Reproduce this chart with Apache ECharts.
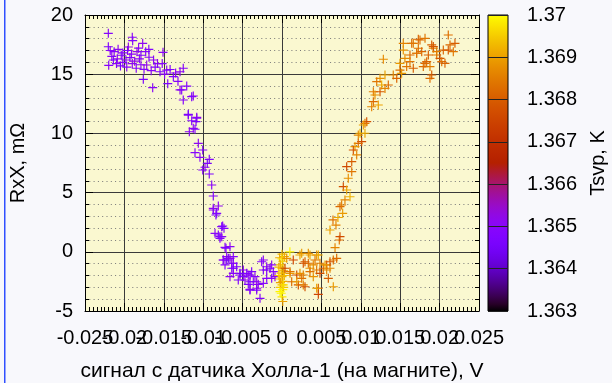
<!DOCTYPE html>
<html><head><meta charset="utf-8">
<script src="https://cdn.jsdelivr.net/npm/echarts@6/dist/echarts.min.js"></script>
<style>html,body{margin:0;padding:0;background:#f8f8fc;}#c{width:612px;height:383px;}</style>
</head><body><div id="c"></div>
<script>
// Hall sensor signal, V
const hallSignal = [
-0.02204,-0.01900,-0.01895,-0.01768,-0.02204,-0.02199,-0.01510,-0.01688,-0.01717,-0.01751,-0.01548,-0.01463,-0.01379,-0.01294,-0.01253,-0.01760,-0.01641,-0.01209,-0.01294,-0.01253,-0.01146,-0.01189,-0.01082,-0.01126,
-0.0218,-0.0213,-0.0208,-0.0202,-0.0196,-0.0191,-0.0184,-0.0179,-0.0216,-0.0209,-0.0204,-0.0198,-0.0193,-0.0187,-0.0181,-0.0210,-0.0205,-0.0197,-0.0190,-0.0185,-0.0179,-0.0202,-0.0214,-0.0182,-0.0195,-0.0173,-0.0169,-0.0163,-0.0158,-0.0161,-0.0152,-0.0149,-0.0142,-0.0135,-0.0132,-0.0145,-0.0166,
-0.01273,-0.01126,-0.01189,-0.01082,-0.01146,-0.01091,-0.01176,-0.01104,-0.01062,-0.01006,-0.01104,-0.01041,-0.00923,-0.00948,-0.00977,-0.01006,-0.00923,-0.00892,-0.00872,-0.00808,-0.00872,-0.00838,-0.00753,-0.00736,-0.00808,-0.00765,-0.00723,-0.00660,-0.00787,-0.00765,-0.00850,-0.00787,-0.00872,-0.00829,
-0.00711,-0.00745,-0.00681,-0.00618,-0.00638,-0.00575,-0.00618,-0.00491,-0.00448,-0.00406,-0.00533,-0.00470,-0.00364,-0.00428,-0.00301,-0.00237,-0.00406,-0.00321,-0.00279,-0.00237,-0.00152,-0.00110,-0.00089,-0.00194,-0.00131,-0.00194,-0.00385,-0.00343,-0.00702,
-0.00258,-0.00194,-0.00237,-0.00131,-0.00321,-0.00406,-0.00428,-0.00491,-0.00533,-0.00618,-0.00660,-0.00555,-0.00406,-0.00321,-0.00723,-0.00702,-0.00660,-0.00618,-0.00745,-0.00638,
0.0000,-0.0003,0.0001,-0.0002,0.0000,0.0002,-0.0001,0.0000,-0.0003,0.0001,0.0000,-0.0002,0.0001,-0.0001,0.0000,0.0001,-0.0004,-0.0004,0.0003,0.0003,-0.0002,0.0002,-0.00025,0.0010,0.0000,
0.00727,0.00673,0.00250,0.00355,0.00440,0.00143,0.00060,0.00270,0.00334,0.00397,0.00482,0.00567,0.00651,0.00038,0.00355,0.00440,0.00524,0.00609,0.00102,0.00187,0.00270,0.00397,0.00588,0.00123,0.00207,0.00270,0.00016,0.00461,0.00461,0.00651,
0.00228,0.00334,0.00461,0.00292,0.00419,0.00546,0.00609,0.00694,0.00102,0.00228,0.00355,0.00482,0.00567,0.00187,0.00250,0.00292,0.00440,
0.01159,0.01244,0.01180,0.01159,0.01222,0.01138,0.01075,0.01053,0.01032,0.00990,0.00968,0.01053,0.01011,0.00968,0.00926,0.00905,0.00948,0.00885,0.00821,0.00885,0.00841,0.00778,0.00821,0.00863,0.00799,0.00736,0.00770,0.00736,0.00647,0.00609,0.00685,0.00710,0.00757,
0.02110,0.01730,0.01815,0.01539,0.01646,0.01900,0.01920,0.02132,0.02195,0.02174,0.02110,0.01730,0.01773,0.01709,0.01857,0.01963,0.01539,0.01624,0.02005,0.02027,0.02068,0.01497,0.01582,0.01666,0.01793,0.01878,0.01286,0.01497,0.01307,0.01412,0.01456,0.01244,0.01202,0.01265,0.01349,0.01307,0.01878,0.02047,0.01900,0.01666,0.01751,0.01920,0.01963,0.01709,0.01836,0.01560,0.01624,0.01518,0.01814
];
// RxX, mOhm
const rxx = [
18.45,18.12,17.83,17.61,17.32,15.75,16.85,16.43,15.78,15.41,15.21,15.35,14.79,15.21,15.50,14.57,13.86,14.00,13.67,12.82,13.10,11.55,11.28,10.43,
17.0,16.9,17.1,16.8,17.0,16.7,16.9,16.6,16.5,16.3,16.6,16.2,16.4,16.1,16.3,15.9,15.7,15.6,15.9,15.5,15.8,16.0,16.2,17.2,17.3,16.9,17.1,16.2,15.9,15.6,15.9,15.0,15.4,15.1,14.4,14.2,15.3,
13.67,13.16,11.61,11.36,11.07,10.99,10.14,10.35,9.16,8.60,8.37,7.98,7.81,7.47,7.14,6.91,6.57,5.64,4.71,3.87,3.53,3.11,2.18,1.98,1.42,1.28,0.38,0.43,1.28,2.12,1.56,1.14,3.67,3.25,
0.30,-0.69,-0.55,-0.41,-0.97,-1.26,-1.39,-1.54,-1.82,-1.96,-1.96,-2.38,-2.53,-2.75,-2.75,-2.66,-3.23,-3.08,-3.93,-0.69,-1.39,-1.68,-2.10,-1.54,-1.11,-2.24,-1.68,-2.10,-0.41,
-0.84,-1.26,-1.54,-2.24,-2.53,-2.53,-1.96,-2.10,-1.82,-1.82,-2.10,-2.38,-3.17,-3.23,-1.11,-0.69,-0.55,-0.97,-0.69,-1.39,
-0.2,-0.5,-0.8,-1.1,-1.4,-1.6,-1.8,-2.1,-2.3,-2.5,-2.8,-3.0,-3.2,-3.5,-3.8,-4.2,-1.3,-2.0,-0.4,-2.0,-2.6,-3.0,-3.37,0.0,-0.6,
1.00,0.35,-0.13,-0.27,-0.27,-0.69,-0.55,-0.97,-0.97,-1.11,-0.97,-1.11,-0.69,-1.39,-1.39,-1.54,-1.39,-1.39,-1.82,-1.96,-1.96,-2.10,-2.24,-2.53,-2.80,-2.80,-2.80,-3.08,-3.59,-2.95,
-0.27,-0.13,-0.27,-0.84,-0.69,-1.11,-0.84,-0.55,-1.68,-1.82,-1.68,-1.82,-1.54,-2.53,-2.24,-2.95,-3.08,
13.52,13.52,13.24,12.68,12.40,12.25,10.99,10.85,10.71,10.01,9.86,10.01,9.30,9.16,8.88,8.60,8.18,7.61,7.19,6.77,6.21,5.50,5.22,4.65,4.38,3.81,3.25,1.28,2.69,1.84,2.26,2.90,3.95,
18.31,17.95,18.03,17.61,17.61,17.47,17.19,17.47,17.61,16.90,17.04,17.19,16.90,16.77,16.62,16.62,17.04,16.62,16.34,16.06,15.92,15.92,15.64,15.50,15.64,15.64,16.26,15.35,14.93,14.93,14.65,14.65,14.37,14.09,14.09,13.80,14.65,17.04,14.93,17.61,17.89,17.33,16.90,16.77,16.06,16.34,16.06,15.07,15.92
];
// Tsvp, K
const tsvp = [
1.3649,1.3650,1.3648,1.3651,1.3647,1.3649,1.3650,1.3648,1.3652,1.3649,1.3647,1.3650,1.3648,1.3651,1.3649,1.3646,1.3650,1.3648,1.3652,1.3649,1.3647,1.3650,1.3648,1.3651,
1.3650,1.3648,1.3651,1.3649,1.3647,1.3650,1.3652,1.3648,1.3649,1.3651,1.3647,1.3650,1.3648,1.3652,1.3649,1.3650,1.3646,1.3649,1.3651,1.3648,1.3650,1.3649,1.3647,1.3650,1.3652,1.3649,1.3648,1.3650,1.3651,1.3647,1.3649,1.3650,1.3648,1.3651,1.3649,1.3647,1.3650,
1.3648,1.3650,1.3647,1.3651,1.3649,1.3646,1.3650,1.3648,1.3651,1.3647,1.3649,1.3650,1.3648,1.3646,1.3651,1.3649,1.3647,1.3650,1.3648,1.3651,1.3649,1.3646,1.3650,1.3648,1.3647,1.3651,1.3649,1.3650,1.3648,1.3647,1.3650,1.3649,1.3651,1.3648,
1.3647,1.3650,1.3645,1.3649,1.3651,1.3646,1.3648,1.3650,1.3647,1.3649,1.3645,1.3651,1.3648,1.3646,1.3650,1.3649,1.3647,1.3651,1.3648,1.3650,1.3646,1.3649,1.3651,1.3647,1.3650,1.3648,1.3646,1.3649,1.3651,
1.3648,1.3650,1.3646,1.3649,1.3651,1.3647,1.3650,1.3648,1.3646,1.3649,1.3651,1.3647,1.3650,1.3648,1.3649,1.3646,1.3651,1.3648,1.3650,1.3647,
1.3693,1.3691,1.3694,1.3692,1.3695,1.3690,1.3693,1.3692,1.3694,1.3691,1.3693,1.3695,1.3699,1.3699,1.3698,1.3690,1.3692,1.3694,1.3691,1.3693,1.3690,1.3694,1.3699,1.3699,1.3697,
1.3684,1.3686,1.3689,1.3690,1.3688,1.3676,1.3688,1.3678,1.3682,1.3687,1.3685,1.3679,1.3683,1.3675,1.3688,1.3684,1.3681,1.3686,1.3689,1.3677,1.3685,1.3688,1.3680,1.3682,1.3678,1.3686,1.3697,1.3680,1.3675,1.3689,
1.3690,1.3688,1.3691,1.3680,1.3684,1.3690,1.3679,1.3682,1.3684,1.3688,1.3683,1.3677,1.3686,1.3689,1.3683,1.3678,1.3690,
1.3685,1.3679,1.3688,1.3682,1.3690,1.3686,1.3678,1.3684,1.3690,1.3692,1.3687,1.3691,1.3677,1.3682,1.3689,1.3678,1.3686,1.3680,1.3676,1.3684,1.3688,1.3677,1.3690,1.3692,1.3686,1.3682,1.3689,1.3677,1.3683,1.3690,1.3686,1.3691,1.3685,
1.3683,1.3681,1.3684,1.3686,1.3682,1.3680,1.3685,1.3682,1.3680,1.3684,1.3679,1.3683,1.3681,1.3686,1.3680,1.3684,1.3688,1.3682,1.3679,1.3683,1.3681,1.3689,1.3684,1.3680,1.3682,1.3685,1.3687,1.3683,1.3690,1.3686,1.3681,1.3688,1.3684,1.3691,1.3682,1.3686,1.3683,1.3681,1.3680,1.3684,1.3682,1.3679,1.3685,1.3683,1.3681,1.3687,1.3684,1.3689,1.3682
];
const xTickLabels = ['-0.025','-0.02','-0.015','-0.01','-0.005','0','0.005','0.01','0.015','0.02','0.025'];
const yTickLabels = ['-5','0','5','10','15','20'];
const cbTickLabels = ['1.363','1.364','1.365','1.366','1.367','1.368','1.369','1.37'];

// gnuplot default palette (rgbformulae 7,5,15)
function pal(t){
  const r = Math.sqrt(t), g = t*t*t, b = Math.max(0, Math.sin(2*Math.PI*t));
  const h = v => Math.round(Math.min(1,Math.max(0,v))*255).toString(16).padStart(2,'0');
  return '#'+h(r)+h(g)+h(b);
}
const N = 40;
const palColors = [], palStops = [];
for (let i=0;i<=N;i++){ palColors.push(pal(i/N)); palStops.push({offset:i/N, color:pal(i/N)}); }

const pts = hallSignal.map((x,i)=>[x, rxx[i], tsvp[i]]);
const FONT = 'Liberation Sans';
const FS = 20;
const xIdx = v => Math.round((v+0.025)/0.005);

const chart = echarts.init(document.getElementById('c'), null, {renderer:'canvas'});
chart.setOption({
  animation:false,
  backgroundColor:'#f8f8fc',
  textStyle:{fontFamily:FONT},
  grid:[
    {left:85, top:15, width:394, height:296, show:true, backgroundColor:'#faf8d0', borderWidth:0,
     containLabel:false, outerBoundsMode:'none'},
    {left:488, top:15, width:20, height:296, show:true,
     backgroundColor:new echarts.graphic.LinearGradient(0,1,0,0,palStops), borderColor:'#000', borderWidth:1,
     containLabel:false, outerBoundsMode:'none'}
  ],
  visualMap:{show:false, type:'continuous', dimension:2, min:1.363, max:1.37, seriesIndex:0, inRange:{color:palColors}},
  xAxis:[
    {gridIndex:0, type:'value', min:-0.025, max:0.025, interval:0.005, position:'bottom',
     axisLine:{show:true, onZero:false, lineStyle:{color:'#000', width:1}},
     axisTick:{show:true, inside:true, length:8, lineStyle:{color:'#000'}},
     minorTick:{show:true, splitNumber:10, length:4, lineStyle:{color:'#000'}},
     splitLine:{show:true, lineStyle:{color:'#3a3a3a', width:1}},
     axisLabel:{fontSize:FS, color:'#000', margin:17, fontFamily:FONT, hideOverlap:false,
       showMinLabel:false, showMaxLabel:false,
       formatter:v=>{const i=xIdx(v); return (i===0||i===10)?'':xTickLabels[i];}},
     name:'сигнал с датчика Холла-1 (на магните), V', nameLocation:'middle', nameGap:50,
     nameTextStyle:{fontSize:21, color:'#000', fontFamily:FONT}},
    {gridIndex:0, type:'value', min:-0.025, max:0.025, interval:0.005, position:'top',
     axisLine:{show:true, onZero:false, lineStyle:{color:'#000', width:1}},
     axisTick:{show:true, inside:true, length:8, lineStyle:{color:'#000'}},
     minorTick:{show:true, splitNumber:10, length:4, lineStyle:{color:'#000'}},
     axisLabel:{show:false}, splitLine:{show:false}},
    {gridIndex:1, type:'value', min:0, max:1, show:false},
    {gridIndex:0, type:'value', min:-0.025, max:0.025, interval:0.005, position:'bottom',
     axisLine:{show:false}, axisTick:{show:false}, splitLine:{show:false},
     axisLabel:{fontSize:FS, color:'#000', margin:17, fontFamily:FONT, hideOverlap:false,
       showMinLabel:true, showMaxLabel:true,
       formatter:v=>{const i=xIdx(v); return (i===0||i===10)?xTickLabels[i]:'';}}}
  ],
  yAxis:[
    {gridIndex:0, type:'value', min:-5, max:20, interval:5, position:'left',
     axisLine:{show:true, onZero:false, lineStyle:{color:'#000', width:1}},
     axisTick:{show:true, inside:true, length:8, lineStyle:{color:'#000'}},
     minorTick:{show:true, splitNumber:5, length:4, lineStyle:{color:'#000'}},
     splitLine:{show:true, lineStyle:{color:'#3a3a3a', width:1}},
     minorSplitLine:{show:true, lineStyle:{color:'#777', width:1, type:[1,3.3]}},
     axisLabel:{fontSize:FS, color:'#000', margin:12, fontFamily:FONT,
       showMinLabel:true, showMaxLabel:true,
       formatter:v=>yTickLabels[Math.round((v+5)/5)]},
     name:'RxX, mΩ', nameLocation:'middle', nameGap:57, nameRotate:90,
     nameTextStyle:{fontSize:FS, color:'#000', fontFamily:FONT}},
    {gridIndex:0, type:'value', min:-5, max:20, interval:5, position:'right',
     axisLine:{show:true, onZero:false, lineStyle:{color:'#000', width:1}},
     axisTick:{show:true, inside:true, length:8, lineStyle:{color:'#000'}},
     minorTick:{show:true, splitNumber:5, length:4, lineStyle:{color:'#000'}},
     axisLabel:{show:false}, splitLine:{show:false}},
    {gridIndex:1, type:'value', min:1.363, max:1.37, interval:0.001, position:'right',
     axisLine:{show:false},
     axisTick:{show:false},
     splitLine:{show:true, lineStyle:{color:'#222', width:1}},
     axisLabel:{fontSize:FS, color:'#000', margin:19, fontFamily:FONT,
       showMinLabel:true, showMaxLabel:true,
       formatter:v=>cbTickLabels[Math.round((v-1.363)/0.001)]},
     name:'Tsvp, K', nameLocation:'middle', nameGap:80, nameRotate:90,
     nameTextStyle:{fontSize:FS, color:'#000', fontFamily:FONT}}
  ],
  graphic:[
    {type:'line', shape:{x1:4.75,y1:0,x2:4.75,y2:383}, style:{stroke:'#3050ff', lineWidth:1.5}, z:100}
  ],
  series:[
    {type:'scatter', xAxisIndex:0, yAxisIndex:0, data:pts,
     symbol:'path://M0,4.35h10v1.3h-10zM4.35,0h1.3v10h-1.3z', symbolSize:9,
     itemStyle:{opacity:1}, silent:true}
  ]
});
</script></body></html>
